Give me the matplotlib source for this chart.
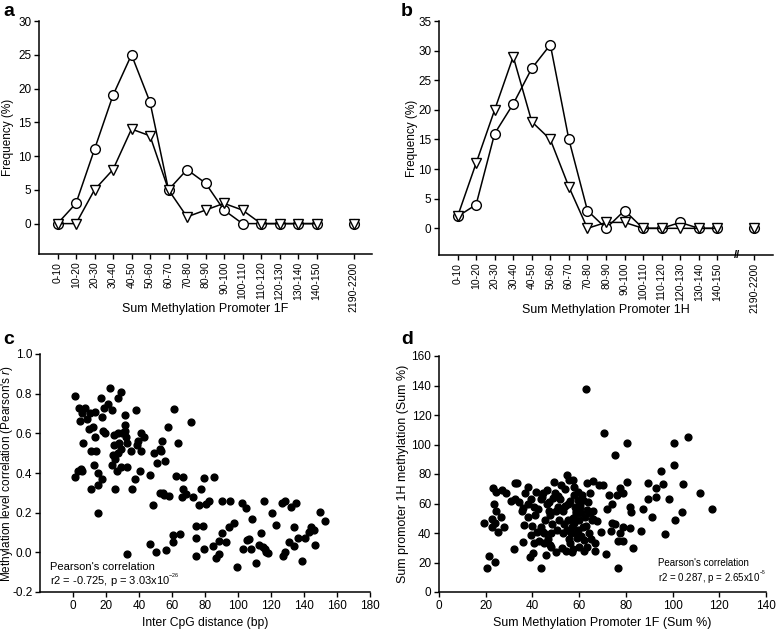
"""Four-panel methylation figure: frequency profiles (a, b) and scatters (c, d)."""

import matplotlib
matplotlib.use("Agg")
import matplotlib.pyplot as plt
import matplotlib.transforms as mtrans

plt.rcParams["font.family"] = ["Liberation Sans", "DejaVu Sans"]
plt.rcParams["mathtext.fontset"] = "custom"
plt.rcParams["mathtext.rm"] = "Liberation Sans"
plt.rcParams["mathtext.it"] = "Liberation Sans:italic"

W, H = 777, 631

# --- panels a / b : frequency per methylation bin -------------------------
bins = ["0-10", "10-20", "20-30", "30-40", "40-50", "50-60", "60-70", "70-80",
        "80-90", "90-100", "100-110", "110-120", "120-130", "130-140",
        "140-150", "2190-2200"]
bin_pos = list(range(15)) + [16]

a_circle = [0, 3, 11, 19, 25, 18, 5, 8, 6, 2, 0, 0, 0, 0, 0, 0]
a_triangle = [0, 0, 5, 8, 14, 13, 5, 1, 2, 3, 2, 0, 0, 0, 0, 0]

b_circle = [2, 4, 16, 21, 27, 31, 15, 3, 0, 3, 0, 0, 1, 0, 0, 0]
b_triangle = [2, 11, 20, 29, 18, 15, 7, 0, 1, 1, 0, 0, 0, 0, 0, 0]

# --- panel c : inter-CpG distance vs correlation --------------------------
c_dist = [1.0, 3.4, 7.3, 5.3, 4.0, 8.3, 10.3, 13.3, 9.7, 12.3,
          13.1, 6.3, 11.1, 13.7, 12.7, 15.2, 11.1, 15.2, 17.4, 4.6,
          3.2, 5.7, 1.2, 15.4, 17.2, 17.4, 18.4, 19.2, 18.8, 21.2,
          22.2, 23.4, 29.3, 27.3, 31.5, 31.3, 32.3, 27.5, 24.8, 27.9,
          24.8, 24.0, 23.4, 25.7, 27.5, 29.1, 29.5, 31.3, 26.5, 29.1,
          32.5, 25.3, 32.9, 35.4, 35.6, 37.4, 38.6, 39.4, 38.4, 41.4,
          43.0, 41.4, 40.6, 32.5, 46.5, 48.7, 49.3, 51.0, 52.5, 53.5,
          53.9, 52.5, 54.7, 55.0, 58.2, 55.5, 57.5, 61.2, 62.6, 63.4,
          66.5, 66.5, 65.9, 68.5, 71.3, 72.7, 77.4, 76.6, 79.4, 80.8,
          82.6, 85.6, 90.1, 95.4, 102.4, 104.6, 115.6, 120.8, 126.5, 128.5,
          132.0, 134.9, 149.7, 152.7, 46.5, 50.1, 56.6, 60.6, 60.6, 64.6,
          74.5, 78.8, 74.7, 74.5, 79.4, 84.7, 86.5, 88.5, 88.3, 90.5,
          92.5, 94.6, 97.6, 99.6, 102.8, 105.3, 106.5, 107.7, 108.7, 111.0,
          112.8, 114.0, 115.0, 116.4, 117.2, 118.4, 122.8, 127.5, 128.5, 130.9,
          133.9, 133.9, 136.6, 138.6, 140.8, 143.0, 144.4, 146.1, 146.7]
c_corr = [0.79, 0.73, 0.73, 0.70, 0.66, 0.67, 0.70, 0.71, 0.62, 0.63,
          0.58, 0.55, 0.51, 0.51, 0.44, 0.40, 0.32, 0.34, 0.37, 0.42,
          0.41, 0.41, 0.38, 0.20, 0.78, 0.68, 0.61, 0.60, 0.73, 0.75,
          0.83, 0.72, 0.81, 0.78, 0.69, 0.64, 0.58, 0.60, 0.59, 0.55,
          0.54, 0.49, 0.44, 0.47, 0.50, 0.52, 0.60, 0.61, 0.41, 0.43,
          0.43, 0.32, 0.55, 0.51, 0.32, 0.37, 0.54, 0.56, 0.72, 0.60,
          0.58, 0.51, 0.41, -0.01, 0.39, 0.24, 0.50, 0.45, 0.52, 0.51,
          0.56, 0.30, 0.30, 0.29, 0.285, 0.46, 0.63, 0.725, 0.385, 0.55,
          0.38, 0.32, 0.28, 0.295, 0.655, 0.28, 0.32, 0.24, 0.377, 0.243,
          0.257, 0.38, 0.257, 0.257, 0.25, 0.225, 0.258, 0.198, 0.25, 0.258,
          0.23, 0.248, 0.203, 0.16, 0.04, 0.003, 0.012, 0.05, 0.085, 0.093,
          0.133, 0.133, 0.07, -0.017, 0.017, 0.032, -0.03, -0.01, 0.059, 0.098,
          0.054, 0.127, 0.15, -0.073, 0.017, 0.06, 0.065, 0.017, 0.167, -0.054,
          0.037, 0.098, 0.025, 0.017, 0.0, -0.003, 0.14, -0.017, 0.0, 0.054,
          0.034, 0.127, 0.073, -0.042, 0.073, 0.10, 0.127, 0.113, 0.037]

# --- panel d : sum methylation 1F vs 1H ------------------------------------
d_sum1f = [62.9, 70.5, 80.3, 75.3, 100.4, 106.8, 100.4, 95.1, 95.7, 89.4,
           92.7, 104.6, 111.7, 116.8, 98.5, 92.7, 89.3, 91.3, 101.0, 104.0,
           96.6, 86.6, 81.6, 80.3, 78.6, 77.4, 76.4, 81.7, 82.0, 87.5,
           78.9, 77.4, 78.9, 76.6, 83.2, 76.7, 71.6, 73.6, 73.9, 75.3,
           71.8, 73.9, 72.7, 70.3, 68.6, 66.1, 64.6, 63.2, 66.1, 67.0,
           66.6, 63.5, 19.3, 20.4, 21.5, 23.9, 22.5, 22.8, 23.0, 24.4,
           23.4, 24.4, 24.0, 25.4, 26.4, 27.8, 28.5, 32.5, 33.5, 32.5,
           34.3, 32.2, 36.1, 35.4, 36.4, 36.9, 37.9, 38.2, 38.9, 39.4,
           39.5, 40.4, 40.8, 40.7, 41.1, 41.4, 41.8, 43.5, 42.9, 43.5,
           43.7, 44.0, 44.6, 45.0, 45.1, 45.4, 45.8, 46.1, 46.4, 47.3,
           47.5, 47.8, 48.1, 48.9, 49.4, 49.6, 49.9, 50.4, 51.1, 51.2,
           52.1, 52.5, 52.9, 53.2, 53.9, 54.6, 55.1, 55.3, 54.9, 55.8,
           56.1, 56.5, 56.8, 57.2, 57.5, 57.8, 57.9, 58.2, 58.5, 58.9,
           59.2, 59.3, 59.6, 59.9, 60.1, 60.3, 60.6, 61.1, 61.5, 61.8,
           62.1, 62.5, 63.2, 63.9, 64.3, 64.6, 65.3, 44.5, 46.8, 48.5,
           50.8, 53.5, 55.5, 57.0, 58.0, 59.5, 61.0, 62.8, 60.5, 58.8,
           56.0, 54.0, 52.0, 50.0, 47.0, 42.5, 38.0, 36.0, 40.0, 66.0,
           67.5, 69.5, 65.0, 62.0, 57.5, 54.5, 47.5, 31.0, 27.0]
d_sum1h = [137.9, 107.7, 101.1, 92.6, 101.1, 105.2, 85.8, 82.2, 72.9, 73.8,
           70.7, 72.9, 66.8, 56.0, 62.8, 64.3, 63.2, 50.6, 48.8, 54.0,
           39.5, 41.5, 43.6, 74.9, 66.8, 70.2, 65.7, 57.8, 54.0, 56.2,
           44.2, 39.7, 34.5, 34.5, 30.0, 16.5, 26.0, 41.5, 47.0, 46.0,
           56.0, 59.6, 65.7, 72.5, 72.5, 75.4, 67.3, 74.0, 49.7, 33.4,
           28.0, 30.7, 47.0, 16.5, 24.6, 20.5, 44.2, 49.2, 70.2, 67.5,
           59.6, 54.9, 46.5, 40.9, 50.6, 43.8, 66.8, 74.0, 74.0, 62.8,
           60.7, 28.9, 33.9, 54.6, 45.4, 66.8, 71.3, 50.6, 23.9, 38.6,
           62.8, 26.2, 33.4, 57.8, 51.9, 67.9, 40.6, 16.0, 34.8, 44.2,
           63.0, 64.6, 66.8, 39.7, 33.0, 48.8, 25.1, 69.0, 59.6, 55.1,
           52.1, 39.7, 30.7, 63.4, 74.7, 67.3, 26.9, 42.0, 57.3, 48.8,
           72.5, 29.6, 39.7, 55.1, 70.0, 42.0, 48.8, 60.0, 79.2, 75.8,
           33.0, 39.7, 27.3, 50.3, 75.8, 71.3, 65.7, 57.8, 53.3, 39.7,
           36.8, 62.3, 67.9, 30.7, 48.8, 57.8, 53.3, 65.7, 62.3, 44.2,
           35.2, 51.0, 55.5, 61.2, 39.7, 53.3, 48.8, 41.0, 36.0, 46.0,
           65.0, 46.0, 36.0, 44.0, 47.0, 42.0, 38.0, 45.0, 60.0, 55.0,
           62.0, 58.0, 63.0, 55.0, 61.0, 56.0, 60.0, 57.0, 45.0, 55.0,
           48.0, 41.0, 36.0, 28.0, 29.0, 28.0, 32.0, 62.0, 69.0]


def rect(left, top, right, bottom):
    # pixel box -> figure fraction
    return [left / W, 1 - bottom / H, (right - left) / W, (bottom - top) / H]


def prism_axes(ax):
    for side in ("top", "right"):
        ax.spines[side].set_visible(False)
    for side in ("left", "bottom"):
        ax.spines[side].set_linewidth(1.1)
    ax.tick_params(direction="out", length=3.5, width=1.0, labelsize=8.5,
                   pad=2)


def freq_panel(ax, circ, tri, ymax, label):
    prism_axes(ax)
    style = dict(color="black", linewidth=1.1, markersize=7,
                 markerfacecolor="white", markeredgewidth=1.0,
                 clip_on=False)
    # the line only joins the first 15 bins, last bin stands alone
    ax.plot(bin_pos[:15], circ[:15], marker="o", **style)
    ax.plot(bin_pos[:15], tri[:15], marker="v", **style)
    ax.plot(bin_pos[15:], circ[15:], marker="o", linestyle="none", **style)
    ax.plot(bin_pos[15:], tri[15:], marker="v", linestyle="none", **style)
    ax.set_xlim(-1, 17)
    ax.set_ylim(-4.5, ymax)
    ax.set_yticks(range(0, ymax + 1, 5))
    ax.set_xticks(bin_pos)
    ax.set_xticklabels(bins, rotation=90, fontsize=7.5)
    ax.set_ylabel("Frequency (%)", fontsize=8.5)
    ax.set_xlabel(label, fontsize=9)


def main() -> None:
    fig = plt.figure(figsize=(W / 100, H / 100), dpi=100)

    ax_a = fig.add_axes(rect(39, 21, 372, 254))
    freq_panel(ax_a, a_circle, a_triangle, 30, "Sum Methylation Promoter 1F")
    ax_a.xaxis.set_label_coords(0.5, -0.21)
    ax_a.yaxis.set_label_coords(-0.075, 0.5)

    ax_b = fig.add_axes(rect(439, 21, 773, 255))
    freq_panel(ax_b, b_circle, b_triangle, 35, "Sum Methylation Promoter 1H")
    ax_b.xaxis.set_label_coords(0.5, -0.21)
    ax_b.yaxis.set_label_coords(-0.063, 0.5)
    # axis break mark
    brk = mtrans.blended_transform_factory(ax_b.transData, ax_b.transAxes)
    ax_b.text(15.05, 0, "//", transform=brk, ha="center", va="center",
              fontsize=8, fontweight="bold", clip_on=False)

    # panel c
    ax_c = fig.add_axes(rect(40, 354, 370, 592))
    prism_axes(ax_c)
    ax_c.plot(c_dist, c_corr, "o", color="black", markersize=4.9,
              clip_on=False)
    ax_c.set_xlim(-20, 180)
    ax_c.set_ylim(-0.2, 1.0)
    ax_c.set_xticks(range(0, 181, 20))
    ax_c.set_yticks([-0.2, 0.0, 0.2, 0.4, 0.6, 0.8, 1.0])
    ax_c.set_yticklabels(["-0.2", "0.0", "0.2", "0.4", "0.6", "0.8", "1.0"])
    ax_c.set_xlabel("Inter CpG distance (bp)", fontsize=8.7)
    ax_c.set_ylabel("Methylation level correlation (Pearson's $\\it{r}$)",
                    fontsize=8.5)
    ax_c.yaxis.set_label_coords(-0.076, 0.5)
    ax_c.text(0.03, 0.105, "Pearson's correlation", transform=ax_c.transAxes,
              fontsize=8, va="center")
    ax_c.text(0.03, 0.05, "r2 = -0.725, p = 3.03x10$^{^{-26}}$",
              transform=ax_c.transAxes, fontsize=8, va="center")

    # panel d
    ax_d = fig.add_axes(rect(439, 356, 766, 592))
    prism_axes(ax_d)
    ax_d.plot(d_sum1f, d_sum1h, "o", color="black", markersize=4.9,
              clip_on=False)
    ax_d.set_xlim(0, 140)
    ax_d.set_ylim(0, 160)
    ax_d.set_xticks(range(0, 141, 20))
    ax_d.set_yticks(range(0, 161, 20))
    ax_d.set_xlabel("Sum Methylation Promoter 1F (Sum %)", fontsize=9)
    ax_d.set_ylabel("Sum promoter 1H methylation (Sum %)", fontsize=9)
    ax_d.yaxis.set_label_coords(-0.092, 0.5)
    ax_d.text(0.67, 0.123, "Pearson's correlation", transform=ax_d.transAxes,
              fontsize=7, va="center")
    ax_d.text(0.67, 0.064, "r2 = 0.287, p = 2.65x10$^{^{-5}}$",
              transform=ax_d.transAxes, fontsize=7, va="center")

    # panel letters
    for x, y, letter in [(3, 12, "a"), (401, 12, "b"),
                         (3, 340, "c"), (401, 340, "d")]:
        fig.text(x / W, 1 - y / H, letter, fontsize=14, fontweight="bold",
                 va="center", ha="left")

    fig.savefig("out.png", dpi=100)
    plt.close(fig)


if __name__ == "__main__":
    main()
